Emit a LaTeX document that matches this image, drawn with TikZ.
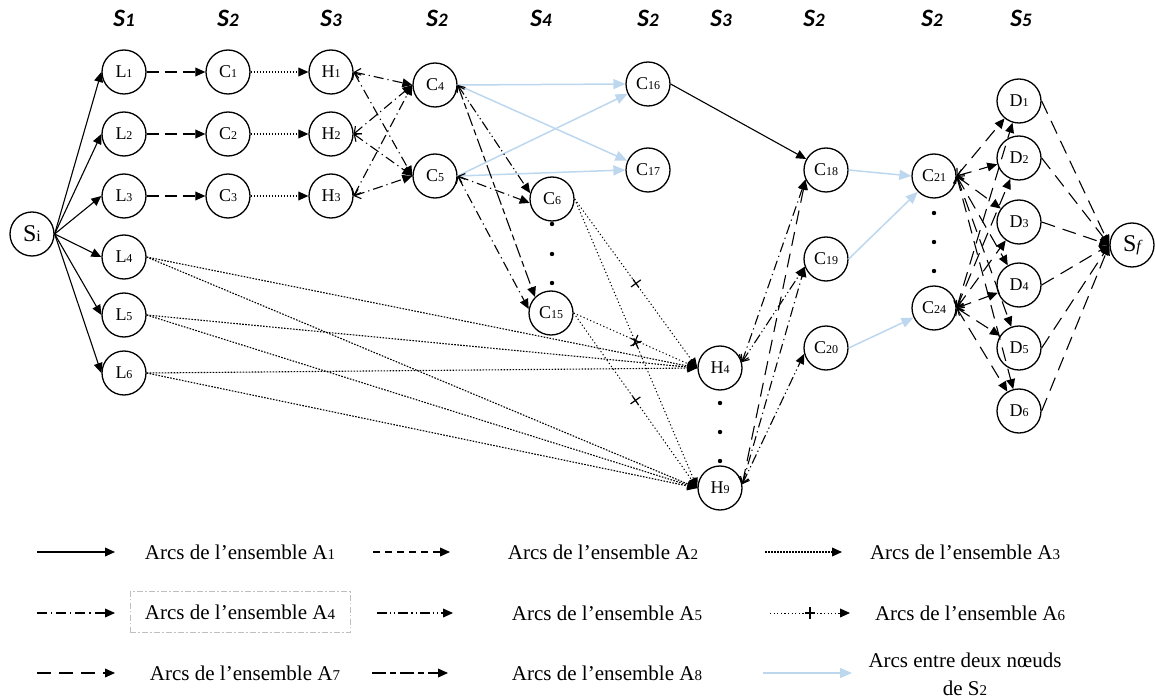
\documentclass[tikz,border=0pt]{standalone}
\usepackage{fontspec}
\setmainfont{Liberation Serif}
\newfontfamily\hdfont{Carlito}
\usepackage{xcolor}
\usetikzlibrary{arrows.meta,decorations.markings}
\definecolor{arcblue}{RGB}{189,215,238}
\newcommand\nsub[1]{{\fontsize{6}{7}\selectfont #1}}
\newcommand\lsub[1]{{\fontsize{7.5}{8}\selectfont #1}}
\newcommand\hsub[1]{{\fontsize{9.5}{10}\selectfont #1}}

\begin{document}
\begin{tikzpicture}[x=0.5pt,y=-0.5pt,>={Triangle[length=5pt,width=4.4pt]},
  nd/.style={circle,draw,fill=white,line width=0.65pt,minimum size=22pt,inner sep=0pt,font=\fontsize{9}{10}\selectfont},
  hd/.style={font=\hdfont\bfseries\itshape\fontsize{12.5}{14}\selectfont},
  lg/.style={font=\fontsize{10.5}{14}\selectfont,inner sep=1pt},
  barb/.style={{Straight Barb[length=2.8pt,width=5pt]}-{Triangle[length=5pt,width=4.4pt]}},
  arcA1/.style={->,line width=0.55pt},
  arcA2/.style={->,line width=0.55pt,dash pattern=on 6pt off 3pt},
  arcA3/.style={->,line width=0.55pt,dash pattern=on 0.8pt off 0.7pt},
  arcA4/.style={->,line width=0.55pt,dash pattern=on 5pt off 2pt on 0.6pt off 2pt},
  arcA5/.style={->,line width=0.55pt,dash pattern=on 5pt off 1.5pt on 0.6pt off 1.5pt on 0.6pt off 1.5pt},
  arcA6/.style={->,line width=0.5pt,dash pattern=on 0.6pt off 1.2pt,
    decoration={markings,mark=at position 0.5 with {\draw[solid,-,line width=0.6pt] (-2.5pt,0)--(2.5pt,0) (0,-3pt)--(0,3pt);}},
    postaction={decorate}},
  arcA7/.style={->,line width=0.55pt,dash pattern=on 7pt off 4pt},
  arcA8/.style={->,line width=0.55pt,dash pattern=on 7pt off 2pt on 3pt off 2pt},
  arcS2/.style={-{Triangle[length=6pt,width=5pt]},draw=arcblue,line width=0.75pt}]
  \useasboundingbox (0,0) rectangle (1155,700);

  % column headers
  \foreach \x/\s in {124/1,228/2,331/3,437/2,541/4,648/2,721/3,814/2,932/2,1021/5}
    \node[hd] (hd\x) at (\x,18) {S\hsub{\s}};

  % nodes
  \node[nd,font=\fontsize{12}{13}\selectfont] (Si) at (32,234) {S{\fontsize{8}{9}\selectfont i}};
  \foreach \i/\y in {1/72,2/134,3/196,4/257,5/315,6/373}
    \node[nd] (L\i) at (124,\y) {L\nsub{\i}};
  \foreach \i/\y in {1/72,2/134,3/196}{
    \node[nd] (C\i) at (228,\y) {C\nsub{\i}};
    \node[nd] (H\i) at (331,\y) {H\nsub{\i}};
  }
  \node[nd] (C4) at (435,85) {C\nsub{4}};
  \node[nd] (C5) at (435,176) {C\nsub{5}};
  \node[nd] (C6) at (552,199) {C\nsub{6}};
  \node[nd] (C15) at (551,313) {C\nsub{15}};
  \node[nd] (C16) at (648,84) {C\nsub{16}};
  \node[nd] (C17) at (648,170) {C\nsub{17}};
  \node[nd] (H4) at (720,368) {H\nsub{4}};
  \node[nd] (H9) at (720,488) {H\nsub{9}};
  \node[nd] (C18) at (826,170) {C\nsub{18}};
  \node[nd] (C19) at (826,259) {C\nsub{19}};
  \node[nd] (C20) at (826,348) {C\nsub{20}};
  \node[nd] (C21) at (934,176) {C\nsub{21}};
  \node[nd] (C24) at (934,308) {C\nsub{24}};
  \foreach \k/\y in {1/101,2/158,3/222,4/285,5/348,6/411}
    \node[nd] (D\k) at (1019,\y) {D\nsub{\k}};
  \node[nd,font=\fontsize{12}{13}\selectfont] (Sf) at (1132,245) {S{\fontsize{8}{9}\selectfont\itshape f}};

  % dots
  \foreach \y in {224,254,283} \fill (552,\y) circle (1.1pt);
  \foreach \y in {403,432,461} \fill (720,\y) circle (1.1pt);
  \foreach \y in {213,242,271} \fill (934,\y) circle (1.1pt);

  % arcs
  \foreach \i in {1,...,6} \draw[arcA1] (Si.east) -- (L\i.west);
  \foreach \i in {1,2,3}{
    \draw[arcA2] (L\i) -- (C\i);
    \draw[arcA3] (C\i) -- (H\i);
    \draw[arcA4,barb] (H\i.east) -- (C4.west);
    \draw[arcA4,barb] (H\i.east) -- (C5.west);
  }
  \draw[arcS2] (C4.east) -- (C16.west);
  \draw[arcS2] (C4.east) -- (C17);
  \draw[arcS2] (C5.east) -- (C16);
  \draw[arcS2] (C5.east) -- (C17.west);
  \draw[arcA5,barb] (C4.east) -- (C6.165);
  \draw[arcA8,barb] (C4.east) -- (C15.135);
  \draw[arcA4,barb] (C5.east) -- (C6.190);
  \draw[arcA4,barb] (C5.east) -- (C15.170);
  \foreach \a in {C6,C15}
    \foreach \b in {H4,H9}
      \draw[arcA6] (\a.east) -- (\b.west);
  \foreach \a in {L4,L5,L6}
    \foreach \b in {H4,H9}
      \draw[arcA3] (\a.east) -- (\b.west);
  \draw[arcA1] (C16.east) -- (C18);
  \draw[arcA4,barb] (H4.15) -- (C18.205);
  \draw[arcA5,barb] (H4.15) -- (C19.200);
  \draw[arcA7,barb] (H9.10) -- (C18.205);
  \draw[arcA4,barb] (H9.10) -- (C19.200);
  \draw[arcA5,barb] (H9.10) -- (C20.195);
  \draw[arcS2] (C18.east) -- (C21.west);
  \draw[arcS2] (C19.east) -- (C21);
  \draw[arcS2] (C20.east) -- (C24);
  \foreach \a in {C21,C24}
    \foreach \k in {1,...,6}
      \draw[arcA7,barb] (\a.east) -- (D\k);
  \foreach \k in {1,...,6} \draw[arcA7] (D\k.east) -- (Sf.west);

  % legend
  \foreach \n/\xa/\xb/\y in {1/37/115/552,2/373/450/552,3/765/842/552,
      4/37/115/613,5/377/453/613,6/770/850/613,
      7/37/115/673,8/372/448/673,9/763/852/673}{
    \coordinate (la\n) at (\xa,\y);
    \coordinate (lb\n) at (\xb,\y);
  }
  \draw[arcA1] (la1) -- (lb1);
  \draw[arcA2,dash pattern=on 3.5pt off 2.5pt] (la2) -- (lb2);
  \draw[arcA3] (la3) -- (lb3);
  \draw[arcA4] (la4) -- (lb4);
  \draw[arcA5] (la5) -- (lb5);
  \draw[arcA6] (la6) -- (lb6);
  \draw[arcA7] (la7) -- (lb7);
  \draw[arcA8] (la8) -- (lb8);
  \draw[arcS2] (la9) -- (lb9);
  \node[lg] (t1) at (240,552) {Arcs de l’ensemble A\lsub{1}};
  \node[lg] (t2) at (603,552) {Arcs de l’ensemble A\lsub{2}};
  \node[lg] (t3) at (965,552) {Arcs de l’ensemble A\lsub{3}};
  \node[lg,draw=black!25,line width=0.5pt,dash pattern=on 3pt off 1.2pt on 0.6pt off 1.2pt,
    minimum width=110pt,minimum height=20.5pt] (t4) at (240,612) {Arcs de l’ensemble A\lsub{4}};
  \node[lg] (t5) at (607,613) {Arcs de l’ensemble A\lsub{5}};
  \node[lg] (t6) at (970,613) {Arcs de l’ensemble A\lsub{6}};
  \node[lg] (t7) at (245,673) {Arcs de l’ensemble A\lsub{7}};
  \node[lg] (t8) at (607,673) {Arcs de l’ensemble A\lsub{8}};
  \node[lg,align=center] (t9) at (965,674) {Arcs entre deux nœuds\\de S\lsub{2}};
\end{tikzpicture}
\end{document}
